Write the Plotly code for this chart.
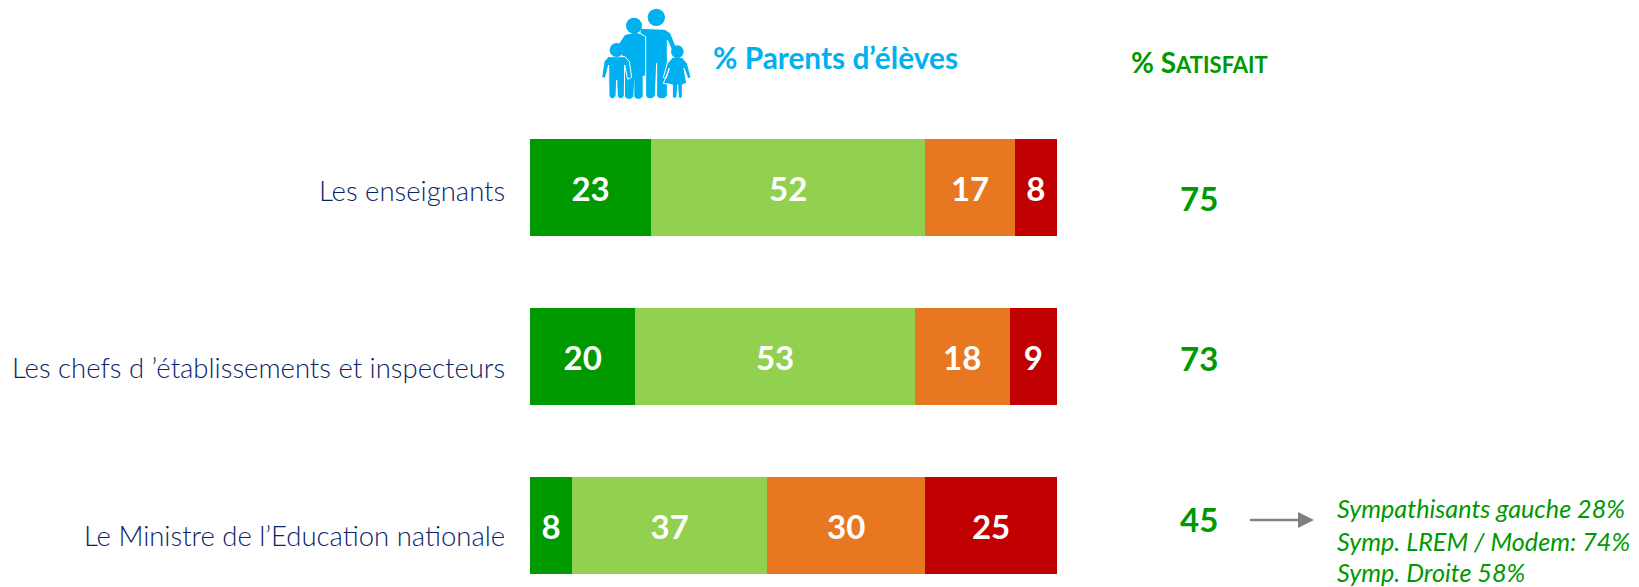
import plotly.graph_objects as go

W, H = 1639, 587

categories = ["Les enseignants", "Les chefs d ’établissements et inspecteurs", "Le Ministre de l’Education nationale"]
tres_satisfait = [23, 20, 8]
plutot_satisfait = [52, 53, 37]
plutot_pas = [17, 18, 30]
pas_du_tout = [8, 9, 25]
satisfait_total = [75, 73, 45]
detail_lines = ["Sympathisants gauche 28%", "Symp. LREM / Modem: 74%", "Symp. Droite 58%"]

series = [
    ("Très satisfait", tres_satisfait, "#009900"),
    ("Plutôt satisfait", plutot_satisfait, "#92D050"),
    ("Plutôt pas satisfait", plutot_pas, "#E87722"),
    ("Pas du tout satisfait", pas_du_tout, "#C00000"),
]

FONT = "Lato, Carlito, Calibri, sans-serif"
GREEN = "#009900"
BLUE = "#00B0F0"
NAVY = "#0A2468"


def px(x):
    return x / W


def py(y):
    return 1 - y / H


fig = go.Figure()
for name, vals, col in series:
    fig.add_trace(go.Bar(
        name=name, y=categories, x=vals, orientation="h", marker=dict(color=col, line=dict(width=0)),
        text=[str(v) for v in vals], textposition="inside", insidetextanchor="middle", textangle=0,
        constraintext="none",
        textfont=dict(family=FONT, size=33, color="white", weight="bold"),
        hoverinfo="skip",
    ))


def ann(x, y, text, size, color, anchor="center", italic=False):
    fig.add_annotation(
        xref="paper", yref="paper", x=px(x), y=py(y), text=text, showarrow=False,
        xanchor=anchor, yanchor="middle", align="left", borderpad=0, borderwidth=0,
        font=dict(family=FONT, size=size, color=color, style="italic" if italic else "normal"),
    )


# Category labels, anchored on the category axis, each nudged to its place in the reference
for cat, nudge in zip(categories, [-3, -11, -10]):
    fig.add_annotation(
        xref="x", yref="y", x=0, y=cat, text=cat, showarrow=False, xanchor="right", yanchor="middle",
        xshift=-25, yshift=nudge, borderpad=0, borderwidth=0,
        font=dict(family=FONT, size=27.5, color=NAVY, weight=300),
    )

ann(713, 58, "<b>% Parents d’élèves</b>", 29.8, BLUE, anchor="left")
ann(1131, 62, "<b>% S<span style='font-size:22px'>ATISFAIT</span></b>", 28, GREEN, anchor="left")
for y, v in zip([198, 358, 519], satisfait_total):
    ann(1199, y, f"<b>{v}</b>", 33, GREEN)
for y, line in zip([508, 541, 571.5], detail_lines):
    ann(1337, y, line, 25.2, GREEN, anchor="left", italic=True)

# Arrow
fig.add_shape(type="line", xref="paper", yref="paper", x0=px(1250), x1=px(1300), y0=py(520), y1=py(520),
              line=dict(color="#808080", width=2.5))
fig.add_shape(type="path", xref="paper", yref="paper", fillcolor="#808080", line=dict(width=0),
              path=f"M{px(1298)} {py(512)} L{px(1314)} {py(520)} L{px(1298)} {py(528)} Z")


# Family pictogram (traced in the 3x zoom space of the region starting at x=580)
def ip(pts):
    s = " L".join(f"{px(580 + a / 3):.5f} {py(b / 3):.5f}" for a, b in pts)
    return "M" + s + " Z"


def poly(pts, outline=True):
    fig.add_shape(type="path", xref="paper", yref="paper", path=ip(pts), fillcolor=BLUE,
                  line=dict(color="white" if outline else BLUE, width=1 if outline else 0))


def head(cx, cy, r):
    fig.add_shape(type="circle", xref="paper", yref="paper", fillcolor=BLUE, line=dict(width=0),
                  x0=px(580 + (cx - r) / 3), x1=px(580 + (cx + r) / 3),
                  y0=py((cy + r) / 3), y1=py((cy - r) / 3))


woman = [(115, 135), (135, 105), (165, 98), (195, 105), (205, 225), (188, 228), (188, 290), (180, 296), (170, 296),
         (163, 290), (163, 230), (160, 290), (152, 296), (142, 296), (135, 290), (135, 235), (125, 150)]
man = [(180, 85), (255, 88), (272, 100), (292, 150), (278, 158), (262, 120), (262, 288), (252, 296), (238, 296),
       (230, 288), (230, 190), (226, 288), (216, 296), (204, 296), (197, 288), (197, 110), (180, 100)]
boy = [(85, 170), (135, 170), (148, 185), (155, 232), (143, 238), (134, 195), (133, 288), (126, 296), (118, 296),
       (112, 288), (110, 240), (108, 288), (100, 296), (93, 296), (87, 288), (86, 195), (76, 235), (65, 232), (72, 185)]
girl = [(278, 172), (306, 172), (322, 190), (333, 232), (324, 236), (312, 205), (320, 250), (307, 254), (307, 290),
        (300, 296), (295, 290), (293, 254), (291, 290), (284, 296), (277, 290), (277, 254), (250, 250), (268, 205),
        (258, 236), (250, 232), (262, 190)]
poly(woman, False)
poly(man)
poly(boy)
poly(girl)
head(229, 52, 26)
head(162, 77, 24)
head(110, 150, 21)
head(292, 155, 19)

fig.update_layout(
    width=W, height=H, barmode="stack", bargap=0.426, showlegend=False,
    margin=dict(l=0, r=0, t=0, b=0), paper_bgcolor="white", plot_bgcolor="white",
    font=dict(family=FONT),
    xaxis=dict(domain=[px(530), px(1057)], range=[0, 100], visible=False, fixedrange=True),
    yaxis=dict(
        domain=[0, 1], range=[2.361, -1.112], showgrid=False, zeroline=False, showline=False,
        showticklabels=False, ticks="", automargin=False, fixedrange=True,
    ),
)

fig.write_html("out.html", config={"displayModeBar": False},
               post_script="document.body.style.margin='0';document.documentElement.style.overflow='hidden';")
